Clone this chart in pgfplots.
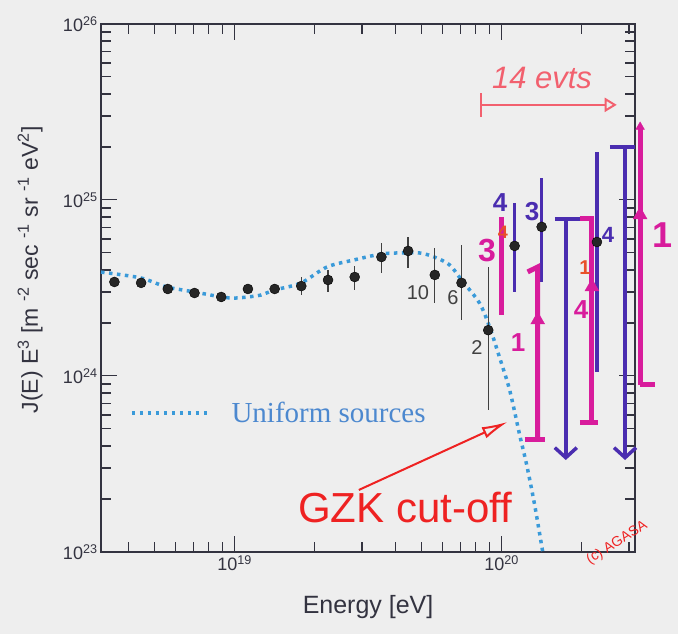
\documentclass[border=0pt]{standalone}
\usepackage{pgfplots}
\pgfplotsset{compat=1.18}
\usetikzlibrary{arrows.meta}
\usepackage{fontspec}
\setmainfont{Liberation Sans}
\newfontfamily\seriffont{Liberation Serif}
\definecolor{bg}{HTML}{EEEEEE}
\definecolor{axiscol}{HTML}{333340}
\definecolor{curveblue}{HTML}{3A9AD9}
\definecolor{legblue}{HTML}{4C88CF}
\definecolor{hmag}{HTML}{D81C9C}
\definecolor{hpur}{HTML}{4A2DB0}
\definecolor{hred}{HTML}{EE2222}
\definecolor{hsalmon}{HTML}{F2606E}
\definecolor{horange}{HTML}{E8502A}
\newcommand{\fs}[1]{\fontsize{#1}{#1}\selectfont}
\begin{document}
\begin{tikzpicture}
\fill[bg] (-101pt,-82pt) rectangle (577pt,552pt);
\useasboundingbox (-101pt,-82pt) rectangle (577pt,552pt);
\begin{axis}[
  at={(0pt,0pt)}, anchor=south west,
  scale only axis, width=534pt, height=528pt,
  xmode=log, ymode=log,
  xmin=3.1623e18, xmax=3.1623e20,
  ymin=1e23, ymax=1e26,
  xtick={1e19,1e20},
  xticklabels={10\textsuperscript{19},10\textsuperscript{20}},
  minor xtick={4e18,5e18,6e18,7e18,8e18,9e18,2e19,3e19,4e19,5e19,6e19,7e19,8e19,9e19,2e20,3e20},
  ytick={1e23,1e24,1e25,1e26},
  yticklabels={10\textsuperscript{23},10\textsuperscript{24},10\textsuperscript{25},10\textsuperscript{26}},
  minor ytick={2e23,3e23,4e23,5e23,6e23,7e23,8e23,9e23,2e24,3e24,4e24,5e24,6e24,7e24,8e24,9e24,2e25,3e25,4e25,5e25,6e25,7e25,8e25,9e25},
  tick align=inside,
  major tick length=16pt, minor tick length=10pt,
  every tick/.style={axiscol, line width=1.1pt},
  axis line style={axiscol, line width=1.3pt},
  ticklabel style={font=\fs{18}, text=axiscol},
  clip=false,
  xlabel={Energy [eV]},
  xlabel style={font=\fs{25}, text=axiscol, at={(axis description cs:0.5,-0.105)}, anchor=center},
  ylabel={J(E) E\textsuperscript{3} [m \textsuperscript{-2} sec \textsuperscript{-1} sr \textsuperscript{-1} eV\textsuperscript{2}]},
  ylabel style={font=\fs{23}, text=axiscol, at={(axis description cs:-0.133,0.534)}, anchor=center},
  legend style={at={(0.0543,0.263)}, anchor=west, draw=none, fill=none, inner sep=0pt, outer sep=0pt,
    font=\seriffont\fs{29}, text=legblue, nodes={inner sep=0pt}, /tikz/column sep=18pt},
  legend image code/.code={\draw[#1] (0pt,0pt) -- (80pt,0pt);},
]
% Uniform sources model curve
\addplot[curveblue, line width=3.5pt, dash pattern=on 3.5pt off 4.5pt, smooth] coordinates {
(3.162e18,3.89e24) (4.436e18,3.61e24) (5.546e18,3.21e24) (7.079e18,3.00e24)
(8.933e18,2.81e24) (1.0e19,2.77e24) (1.119e19,2.81e24) (1.253e19,2.88e24)
(1.413e19,3.08e24) (1.770e19,3.37e24) (2.218e19,4.16e24) (2.799e19,4.56e24)
(3.540e19,4.93e24) (4.140e19,5.00e24) (4.920e19,5.00e24) (5.598e19,4.74e24)
(6.383e19,4.28e24) (7.079e19,3.51e24) (8.260e19,2.60e24) (9.016e19,1.90e24)
(9.817e19,1.28e24) (1.072e20,8.32e23) (1.169e20,4.62e23) (1.242e20,3.12e23)
(1.330e20,1.85e23) (1.426e20,1.0e23)};
\addlegendentry{Uniform sources}
% AGASA data
\addplot[only marks, mark=*, mark size=5pt, mark options={fill=black!85, draw=black},
  error bars/.cd, y dir=both, y explicit, error mark=none,
  error bar style={line width=1.3pt, black!75}]
  table[x=x, y=y, y error plus=ep, y error minus=em] {
x y ep em
3.548e18 3.42e24 1.2e23 1.2e23
4.467e18 3.38e24 1.2e23 1.2e23
5.623e18 3.12e24 1.2e23 1.2e23
7.079e18 2.96e24 1.2e23 1.2e23
8.913e18 2.81e24 1.2e23 1.2e23
1.122e19 3.12e24 1.5e23 1.5e23
1.413e19 3.12e24 2.0e23 2.0e23
1.778e19 3.24e24 4.1e23 3.6e23
2.239e19 3.51e24 4.9e23 5.1e23
2.818e19 3.65e24 5.7e23 5.7e23
3.548e19 4.74e24 9.6e23 8.9e23
4.467e19 5.13e24 1.04e24 1.02e24
5.623e19 3.75e24 1.58e24 1.15e24
7.079e19 3.38e24 2.17e24 1.30e24
8.913e19 1.82e24 2.34e24 1.18e24
};
% highest-energy points (bars redrawn by hand in purple)
\addplot[only marks, mark=*, mark size=5pt, mark options={fill=black!85, draw=black},
  error bars/.cd, y dir=both, y explicit, error mark=none,
  error bar style={line width=3.5pt, hpur}]
  table[x=x, y=y, y error plus=ep, y error minus=em] {
x y ep em
1.119e20 5.48e24 4.14e24 2.48e24
1.413e20 7.03e24 6.27e24 3.61e24
2.276e20 5.77e24 1.29e25 4.72e24
};
% hand-drawn annotations
\addplot[hmag, line width=5pt] coordinates {(1e20,8.0e24) (1e20,2.22e24)};
\addplot[hmag, line width=5pt] coordinates {(1.252e20,3.90e24) (1.366e20,4.16e24) (1.366e20,4.33e23)};
\addplot[hmag, line width=5pt] coordinates {(1.221e20,4.33e23) (1.451e20,4.33e23)};
\addplot[hpur, line width=3.5pt] coordinates {(1.582e20,7.8e24) (1.965e20,7.8e24)};
\addplot[hpur, line width=3.5pt, arrows={-Straight Barb[length=10pt,width=22pt]}] coordinates {(1.740e20,7.8e24) (1.740e20,3.33e23)};
\addplot[hmag, line width=5pt] coordinates {(1.965e20,7.8e24) (2.180e20,7.8e24) (2.180e20,5.41e23)};
\addplot[hmag, line width=5pt] coordinates {(1.965e20,5.41e23) (2.296e20,5.41e23)};
\addplot[hpur, line width=3.5pt] coordinates {(2.547e20,2.0e25) (3.162e20,2.0e25)};
\addplot[hpur, line width=3.5pt, arrows={-Straight Barb[length=10pt,width=22pt]}] coordinates {(2.900e20,2.0e25) (2.900e20,3.33e23)};
\addplot[hmag, line width=5pt] coordinates {(3.303e20,2.6e25) (3.303e20,8.89e23)};
\addplot[hmag, line width=5pt] coordinates {(3.303e20,8.89e23) (3.760e20,8.89e23)};
\addplot[only marks, mark=triangle*, mark size=8pt, hmag] coordinates {(1.366e20,2.08e24) (2.180e20,3.21e24) (3.303e20,8.22e24)};
\addplot[only marks, mark=triangle*, mark size=5pt, hmag] coordinates {(3.303e20,2.6e25)};
\addplot[hsalmon, line width=2pt, arrows={Bar[width=24pt]-Triangle[open,length=12pt,width=14pt]}] coordinates {(8.27e19,3.47e25) (2.70e20,3.47e25)};
\addplot[hred, line width=2pt, arrows={-Latex[open,length=26pt,width=12pt]}] coordinates {(2.92e19,2.25e23) (1.054e20,5.48e23)};
\end{axis}
\begin{scope}[shift={(-101pt,552pt)}, x=1pt, y=-1pt]
\node[text=hsalmon, font=\itshape\fs{31}] at (542,78) {14 evts};
\node[text=hred, font=\fs{42}, anchor=base] at (405,523) {GZK cut-off};
\node[text=hred, font=\fs{14}, rotate=32, inner sep=0pt] at (617,543) {(c) AGASA};
\node[text=black!75, font=\fs{20}] at (418,293) {10};
\node[text=black!75, font=\fs{20}] at (453,298) {6};
\node[text=black!75, font=\fs{20}] at (477,348) {2};
\node[text=hpur, font=\bfseries\fs{26}] at (500,203) {4};
\node[text=horange, font=\bfseries\fs{18}] at (503,232) {4};
\node[text=hmag, font=\bfseries\fs{32}] at (487,251) {3};
\node[text=hpur, font=\bfseries\fs{26}] at (532,212) {3};
\node[text=hmag, font=\bfseries\fs{26}] at (518,343) {1};
\node[text=horange, font=\bfseries\fs{20}] at (585,268) {1};
\node[text=hmag, font=\bfseries\fs{26}] at (581,310) {4};
\node[text=hpur, font=\bfseries\fs{22}] at (608,235) {4};
\node[text=hmag, font=\bfseries\fs{36}] at (663,235) {1};
\end{scope}
\end{tikzpicture}
\end{document}
